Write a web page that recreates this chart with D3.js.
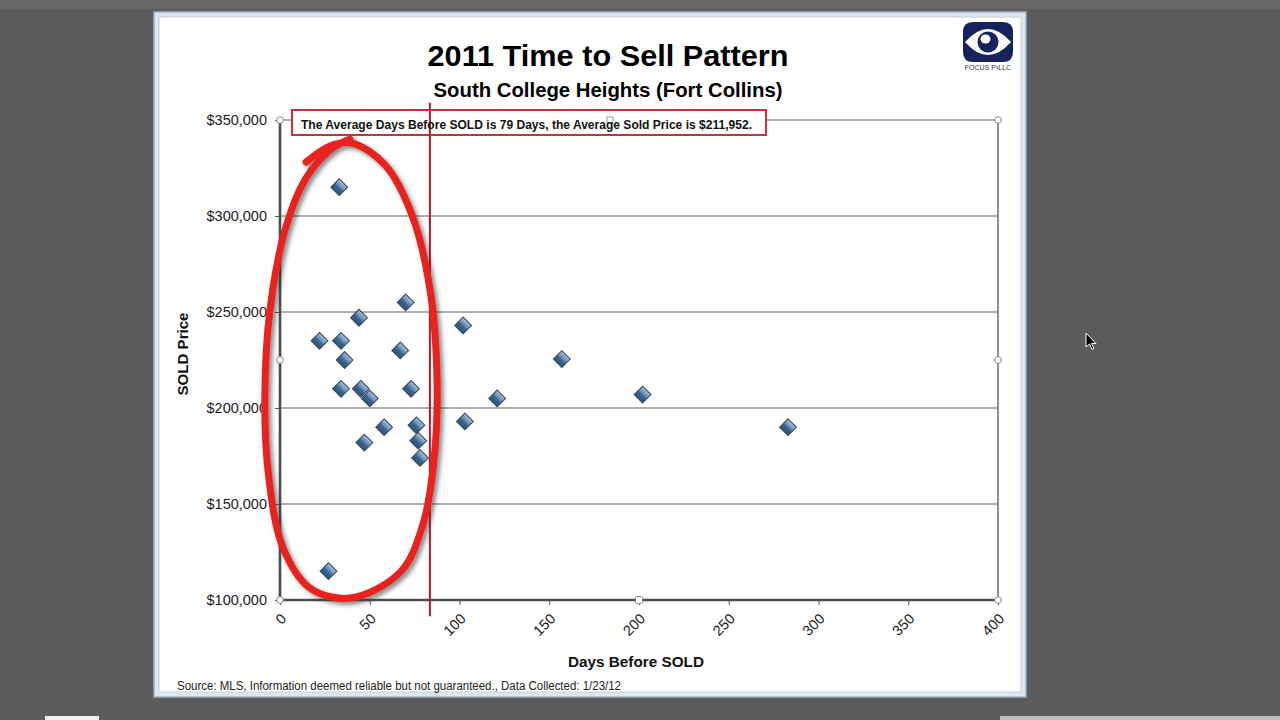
<!DOCTYPE html>
<html>
<head>
<meta charset="utf-8">
<script src="https://cdn.jsdelivr.net/npm/d3@7"></script>
<style>
  html, body { margin: 0; padding: 0; background: #5b5b5b; }
  svg { display: block; }
  text { font-family: "Liberation Sans", Arial, sans-serif; }
</style>
</head>
<body>
<svg id="chart" width="1280" height="720"></svg>
<script>
// ---- DATA ----
const title = "2011 Time to Sell Pattern";
const subtitle = "South College Heights (Fort Collins)";
const annotationText = "The Average Days Before SOLD is 79 Days, the Average Sold Price is $211,952.";
const footerText = "Source: MLS, Information deemed reliable but not guaranteed., Data Collected: 1/23/12";
const xAxisTitle = "Days Before SOLD";
const yAxisTitle = "SOLD Price";

const daysBeforeSold = [33, 70, 44, 102, 22, 34, 67, 36, 157, 34, 45, 50, 73, 121, 202, 103, 58, 76, 47, 77, 78, 283, 27];
const soldPrices     = [315000, 255000, 247000, 243000, 235000, 235000, 230000, 225000, 225500, 210000, 210000, 205000, 210000, 205000, 207000, 193000, 190000, 191000, 182000, 183000, 174000, 190000, 115000];

const xTicks = [0, 50, 100, 150, 200, 250, 300, 350, 400];
const yTicks = [100000, 150000, 200000, 250000, 300000, 350000];

// hand-drawn annotation: average line (day) and its vertical extent (price)
const avgLineDay = 83.5;
const avgLineExtent = [91500, 359000];
// hand-drawn red loop around the fast sales (day, price)
const loopDays   = [14.5, 27.9, 40.1, 58.5, 73.5, 83.6, 87.5, 85.8, 79.5, 67.0, 39.0, 16.7, 1.7, -6.7, -8.4, -5.6, 2.8, 13.9, 27.9, 39.0];
const loopPrices = [328100, 336500, 338000, 326600, 300500, 261500, 214600, 172900, 139000, 114500, 101000, 106250, 127100, 167700, 209400, 251000, 292700, 318800, 334400, 340100];

// ---- DRAW ----
const svg = d3.select("#chart");
const defs = svg.append("defs");

const grad = defs.append("linearGradient").attr("id", "dia").attr("x1", 0).attr("y1", 0).attr("x2", 0).attr("y2", 1);
grad.append("stop").attr("offset", "0%").attr("stop-color", "#a9c3dd");
grad.append("stop").attr("offset", "45%").attr("stop-color", "#5d87b1");
grad.append("stop").attr("offset", "55%").attr("stop-color", "#3d6894");
grad.append("stop").attr("offset", "100%").attr("stop-color", "#2c5279");

const sh = defs.append("filter").attr("id", "shadow").attr("x", "-20%").attr("y", "-20%").attr("width", "140%").attr("height", "140%");
sh.append("feDropShadow").attr("dx", 3).attr("dy", 3).attr("stdDeviation", 2.2)
  .attr("flood-color", "#333").attr("flood-opacity", 0.55);

// background bands
svg.append("rect").attr("x", 0).attr("y", 0).attr("width", 1280).attr("height", 720).attr("fill", "#5b5b5b");
svg.append("rect").attr("x", 0).attr("y", 0).attr("width", 1280).attr("height", 9).attr("fill", "#666");
svg.append("rect").attr("x", 45).attr("y", 716).attr("width", 54).attr("height", 4).attr("fill", "#f2f2f2");
svg.append("rect").attr("x", 1000).attr("y", 716).attr("width", 280).attr("height", 4).attr("fill", "#bdbdbd");

// panel
svg.append("rect").attr("x", 154).attr("y", 12).attr("width", 872).attr("height", 685)
  .attr("fill", "#dfe6ee").attr("stroke", "#9fb0c2").attr("stroke-width", 1.5);
svg.append("rect").attr("x", 159).attr("y", 17).attr("width", 862).attr("height", 675)
  .attr("fill", "#ffffff").attr("stroke", "#c3ced9").attr("stroke-width", 1);

const x = d3.scaleLinear().domain([0, 400]).range([280, 998]);
const y = d3.scaleLinear().domain([100000, 350000]).range([600, 120]);

// gridlines
svg.append("g").selectAll("line").data(yTicks.slice(1)).join("line")
  .attr("x1", x(0)).attr("x2", x(400))
  .attr("y1", d => y(d)).attr("y2", d => y(d))
  .attr("stroke", "#5e5e5e").attr("stroke-width", 1.2);
svg.append("line").attr("x1", x(400)).attr("x2", x(400)).attr("y1", y(100000)).attr("y2", y(350000))
  .attr("stroke", "#5e5e5e").attr("stroke-width", 1.4);

// axes
const yAxis = svg.append("g").attr("transform", `translate(${x(0)},0)`)
  .call(d3.axisLeft(y).tickValues(yTicks).tickFormat(d3.format("$,")).tickSize(5).tickPadding(8));
yAxis.select(".domain").remove();
yAxis.selectAll(".tick line").attr("stroke", "#555");
yAxis.selectAll("text").attr("font-size", "14.5px").attr("fill", "#1a1a1a")
  .attr("font-family", "'Liberation Sans', Arial, sans-serif");

const xAxis = svg.append("g").attr("transform", `translate(0,${y(100000)})`)
  .call(d3.axisBottom(x).tickValues(xTicks).tickSize(5).tickFormat(d3.format("d")));
xAxis.select(".domain").remove();
xAxis.selectAll(".tick line").attr("stroke", "#555");
xAxis.selectAll("text")
  .attr("font-size", "14.5px").attr("fill", "#1a1a1a")
  .attr("font-family", "'Liberation Sans', Arial, sans-serif")
  .attr("text-anchor", "end")
  .attr("y", 0).attr("dy", "0.35em")
  .attr("transform", "translate(3,16) rotate(-45)");

svg.append("line").attr("x1", x(0)).attr("x2", x(0)).attr("y1", y(100000)).attr("y2", y(350000))
  .attr("stroke", "#4d4d4d").attr("stroke-width", 2.6);
svg.append("line").attr("x1", x(0)).attr("x2", x(400)).attr("y1", y(100000)).attr("y2", y(100000))
  .attr("stroke", "#4d4d4d").attr("stroke-width", 2.6);

// selection handles
const handles = [[0, 350000], [400, 350000], [0, 100000], [400, 100000], [0, 225000], [400, 225000]];
svg.append("g").selectAll("circle").data(handles).join("circle")
  .attr("cx", d => x(d[0])).attr("cy", d => y(d[1])).attr("r", 3.3)
  .attr("fill", "#fff").attr("stroke", "#8a8a8a").attr("stroke-width", 1);
svg.append("g").selectAll("rect").data([[200, 350000], [200, 100000]]).join("rect")
  .attr("x", d => x(d[0]) - 3.5).attr("y", d => y(d[1]) - 3.5).attr("width", 7).attr("height", 7).attr("rx", 1)
  .attr("fill", "#fff").attr("stroke", "#8a8a8a").attr("stroke-width", 1);

// markers
const pts = daysBeforeSold.map((d, i) => [d, soldPrices[i]]);
const diamond = d3.symbol().type(d3.symbolSquare).size(140);
svg.append("g").selectAll("path").data(pts).join("path")
  .attr("d", diamond)
  .attr("transform", d => `translate(${x(d[0])},${y(d[1])}) rotate(45)`)
  .attr("fill", "url(#dia)").attr("stroke", "#3b4b5c").attr("stroke-width", 1.1);

// average vertical line
svg.append("line")
  .attr("x1", x(avgLineDay)).attr("x2", x(avgLineDay))
  .attr("y1", y(avgLineExtent[1])).attr("y2", y(avgLineExtent[0]))
  .attr("stroke", "#b3192b").attr("stroke-width", 2);

// annotation box
svg.append("rect").attr("x", 292).attr("y", 110).attr("width", 474).attr("height", 25)
  .attr("fill", "#fff").attr("stroke", "#c8303f").attr("stroke-width", 2);
svg.append("line")
  .attr("x1", x(avgLineDay)).attr("x2", x(avgLineDay)).attr("y1", 111).attr("y2", 134)
  .attr("stroke", "#b3192b").attr("stroke-width", 2);
svg.append("rect").attr("x", 607).attr("y", 117).attr("width", 6).attr("height", 6)
  .attr("fill", "#fff").attr("stroke", "#999");
svg.append("text").attr("x", 301).attr("y", 129)
  .attr("font-size", "12.5px").attr("font-weight", "bold").attr("fill", "#111")
  .attr("textLength", 451).attr("lengthAdjust", "spacingAndGlyphs")
  .text(annotationText);

// red hand-drawn loop
const loop = d3.line().curve(d3.curveCatmullRom.alpha(0.5))
  .x((d, i) => x(loopDays[i])).y((d, i) => y(loopPrices[i]));
svg.append("path").attr("d", loop(loopDays))
  .attr("fill", "none").attr("stroke", "#e8211b").attr("stroke-width", 7)
  .attr("stroke-linecap", "round").attr("stroke-linejoin", "round")
  .attr("filter", "url(#shadow)");

// titles
svg.append("text").attr("x", 608).attr("y", 66).attr("text-anchor", "middle")
  .attr("font-size", "30px").attr("font-weight", "bold").attr("fill", "#000")
  .attr("textLength", 361).attr("lengthAdjust", "spacingAndGlyphs").text(title);
svg.append("text").attr("x", 608).attr("y", 97).attr("text-anchor", "middle")
  .attr("font-size", "20px").attr("font-weight", "bold").attr("fill", "#000")
  .attr("textLength", 349).attr("lengthAdjust", "spacingAndGlyphs").text(subtitle);

svg.append("text").attr("transform", "translate(188,354) rotate(-90)").attr("text-anchor", "middle")
  .attr("font-size", "15px").attr("font-weight", "bold").attr("fill", "#111")
  .attr("textLength", 83).attr("lengthAdjust", "spacingAndGlyphs").text(yAxisTitle);
svg.append("text").attr("x", 636).attr("y", 667).attr("text-anchor", "middle")
  .attr("font-size", "15px").attr("font-weight", "bold").attr("fill", "#111")
  .attr("textLength", 136).attr("lengthAdjust", "spacingAndGlyphs").text(xAxisTitle);

svg.append("text").attr("x", 177).attr("y", 690)
  .attr("font-size", "12px").attr("fill", "#222")
  .attr("textLength", 444).attr("lengthAdjust", "spacingAndGlyphs").text(footerText);

// logo
const logo = svg.append("g").attr("transform", "translate(988,42)");
logo.append("path")
  .attr("d", "M-25,-10 Q-25,-20 -15,-20 L15,-20 Q25,-20 25,-10 L25,10 Q25,20 15,20 L-15,20 Q-25,20 -25,10 Z")
  .attr("fill", "#16235f");
logo.append("path").attr("d", "M-23,0 Q0,-26 23,0 Q0,26 -23,0 Z").attr("fill", "#fff");
logo.append("circle").attr("cx", 0).attr("cy", 0).attr("r", 10.5).attr("fill", "#16235f");
logo.append("ellipse").attr("cx", -2.5).attr("cy", -3).attr("rx", 5).attr("ry", 4.5).attr("fill", "#fff");
svg.append("text").attr("x", 988).attr("y", 70).attr("text-anchor", "middle")
  .attr("font-size", "7px").attr("font-family", "'Liberation Serif', serif").attr("fill", "#333")
  .text("FOCUS P³LLC");

// mouse cursor
svg.append("path")
  .attr("d", "M1086,333 L1086,347 L1089.5,344 L1092,349.5 L1094,348.5 L1091.5,343.5 L1096,343.5 Z")
  .attr("fill", "#000").attr("stroke", "#fff").attr("stroke-width", 1);
</script>
</body>
</html>
